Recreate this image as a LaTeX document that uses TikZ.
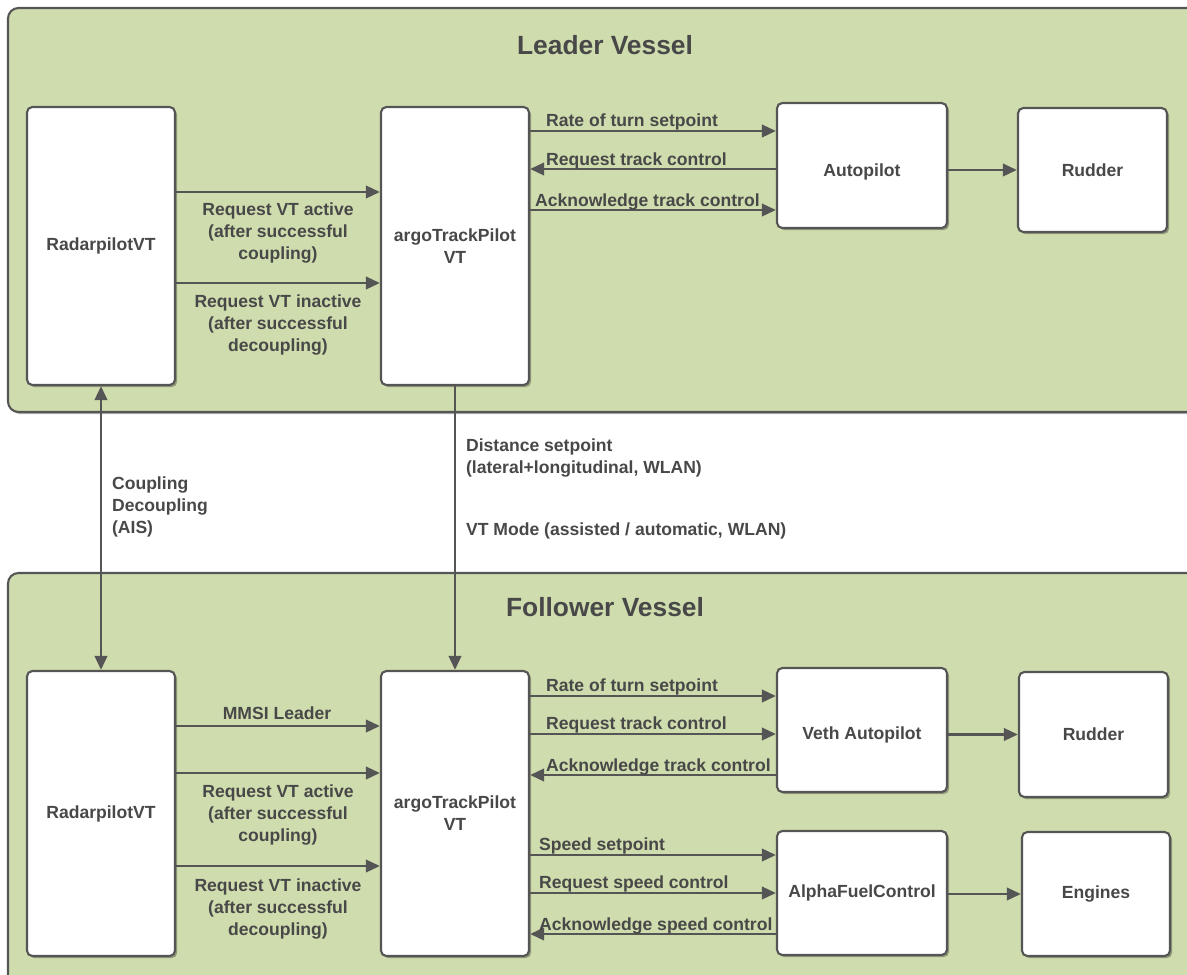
\documentclass[tikz,border=0pt]{standalone}
\usepackage{fontspec}
\setmainfont{Liberation Sans}
\usetikzlibrary{arrows.meta,shadows}
\definecolor{panelgreen}{RGB}{207,221,174}
\definecolor{linegray}{RGB}{85,85,85}
\definecolor{textgray}{RGB}{72,72,72}
\tikzset{
  panel/.style={draw=linegray, line width=1.2pt, fill=panelgreen, rounded corners=6pt,
    drop shadow={shadow xshift=1.2pt, shadow yshift=-1.2pt, opacity=0.3, fill=black}},
  unit/.style={draw=linegray, line width=1.2pt, fill=white, rounded corners=3pt, align=center,
    font=\bfseries\fontsize{10}{12.5}\selectfont, text=textgray,
    drop shadow={shadow xshift=1.2pt, shadow yshift=-1.2pt, opacity=0.3, fill=black}},
  flow/.style={line width=1.6pt, draw=linegray, -{Triangle[length=8pt,width=7pt]}},
  lbl/.style={font=\bfseries\fontsize{10}{12.5}\selectfont, text=textgray, inner sep=1pt},
  vesseltitle/.style={font=\bfseries\fontsize{15}{18}\selectfont, text=textgray},
}
\begin{document}
\begin{tikzpicture}[x=0.02cm, y=-0.02cm]
        \clip (0,0) rectangle (1187,974);
        
        % Pannelli delle navi
        \draw[panel] (8,8) rectangle (1230,412);
        \draw[panel] (8,573) rectangle (1230,1010);
        \node[vesseltitle] (tlead) at (605,45) {Leader Vessel};
        \node[vesseltitle] (tfoll) at (605,607) {Follower Vessel};
        
        % Leader vessel
        \node[unit, minimum width=2.96cm, minimum height=5.56cm] (rl) at (101,246) {RadarpilotVT};
        \node[unit, minimum width=2.96cm, minimum height=5.56cm] (al) at (455,246) {argoTrackPilot\\VT};
        \node[unit, minimum width=3.4cm, minimum height=2.5cm, text height=15pt] (apl) at (862,165.5) {Autopilot};
        \node[unit, minimum width=2.98cm, minimum height=2.48cm] (rdl) at (1092.5,170) {Rudder};
        
        \draw[flow] (rl.east |- 0,192) -- (al.west |- 0,192);
        \draw[flow] (rl.east |- 0,283) -- (al.west |- 0,283);
        \node[lbl, align=center] (ractl) at (278,233) {Request VT active\\(after successful\\coupling)};
        \node[lbl, align=center] (rinactl) at (278,325) {Request VT inactive\\(after successful\\decoupling)};
        
        \draw[flow] (al.east |- 0,131) -- (apl.west |- 0,131);
        \draw[flow] (apl.west |- 0,169) -- (al.east |- 0,169);
        \draw[flow] (al.east |- 0,210) -- (apl.west |- 0,210);
        \node[lbl, anchor=south west] (rotl) at (544,132) {Rate of turn setpoint};
        \node[lbl, anchor=south west] (rtcl) at (544,171) {Request track control};
        \node[lbl, anchor=south west] (atcl) at (533,212) {Acknowledge track control};
        \draw[flow] (apl.east |- rdl.west) -- (rdl.west);
        
        % Follower vessel
        \node[unit, minimum width=2.96cm, minimum height=5.7cm] (rf) at (101,813.5) {RadarpilotVT};
        \node[unit, minimum width=2.96cm, minimum height=5.7cm] (af) at (455,813.5) {argoTrackPilot\\VT};
        \node[unit, minimum width=3.4cm, minimum height=2.48cm, text height=13pt] (vap) at (862,730) {Veth Autopilot};
        \node[unit, minimum width=2.98cm, minimum height=2.5cm] (rdf) at (1093.5,734.5) {Rudder};
        \node[unit, minimum width=3.4cm, minimum height=2.48cm] (afc) at (862,893) {AlphaFuelControl};
        \node[unit, minimum width=2.96cm, minimum height=2.48cm] (eng) at (1096,894) {Engines};
        
        \draw[flow] (rf.east |- 0,726) -- (af.west |- 0,726);
        \draw[flow] (rf.east |- 0,773) -- (af.west |- 0,773);
        \draw[flow] (rf.east |- 0,866) -- (af.west |- 0,866);
        \node[lbl] (mmsi) at (277,713) {MMSI Leader};
        \node[lbl, align=center] (ractf) at (278,815) {Request VT active\\(after successful\\coupling)};
        \node[lbl, align=center] (rinactf) at (278,909) {Request VT inactive\\(after successful\\decoupling)};
        
        \draw[flow] (af.east |- 0,696) -- (vap.west |- 0,696);
        \draw[flow] (af.east |- 0,734) -- (vap.west |- 0,734);
        \draw[flow] (vap.west |- 0,775) -- (af.east |- 0,775);
        \node[lbl, anchor=south west] (rotf) at (544,697) {Rate of turn setpoint};
        \node[lbl, anchor=south west] (rtcf) at (544,735) {Request track control};
        \node[lbl, anchor=south west] (atcf) at (544,777) {Acknowledge track control};
        
        \draw[flow] (af.east |- 0,855) -- (afc.west |- 0,855);
        \draw[flow] (af.east |- 0,893) -- (afc.west |- 0,893);
        \draw[flow] (afc.west |- 0,934) -- (af.east |- 0,934);
        \node[lbl, anchor=south west] (spd) at (537,856) {Speed setpoint};
        \node[lbl, anchor=south west] (rscf) at (537,894) {Request speed control};
        \node[lbl, anchor=south west] (ascf) at (537,936) {Acknowledge speed control};
        
        \draw[flow] (vap.east |- rdf.west) -- (rdf.west);
        \draw[flow] (afc.east |- eng.west) -- (eng.west);
        
        % Collegamenti tra le navi
        \draw[flow, {Triangle[length=8pt,width=7pt]}-{Triangle[length=8pt,width=7pt]}] (rl.south) -- (rf.north);
        \draw[flow] (al.south) -- (af.north);
        \node[lbl, align=left, anchor=west] (ais) at (110,507) {Coupling\\Decoupling\\(AIS)};
        \node[lbl, align=left, anchor=west] (dist) at (464,458) {Distance setpoint\\(lateral+longitudinal, WLAN)};
        \node[lbl, anchor=west] (mode) at (464,531) {VT Mode (assisted / automatic, WLAN)};
        
    \end{tikzpicture}
\end{document}
